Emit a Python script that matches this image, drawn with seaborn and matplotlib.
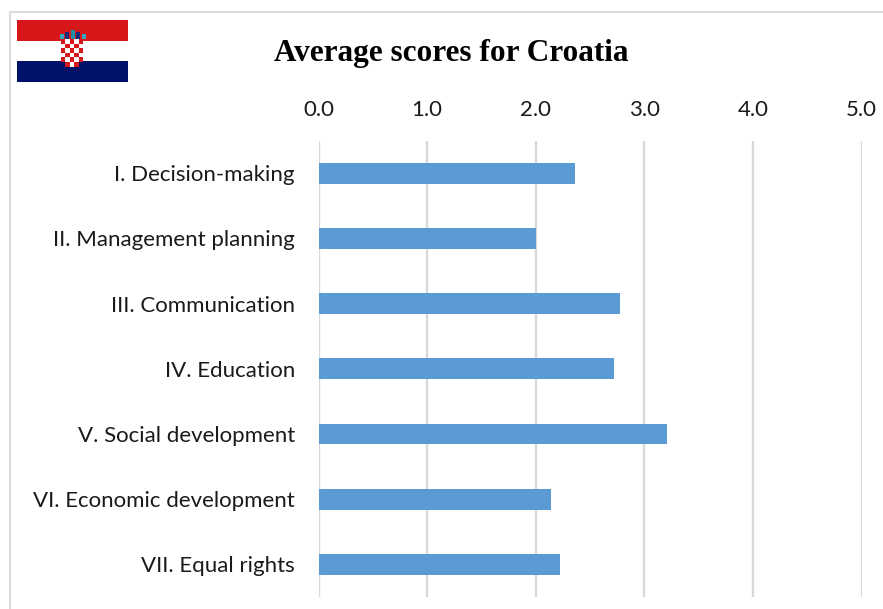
import numpy as np
import pandas as pd
import matplotlib
matplotlib.use('Agg')
import matplotlib.pyplot as plt
import seaborn as sns
from matplotlib.patches import Rectangle

categories = ['I. Decision-making', 'II. Management planning', 'III. Communication',
              'IV. Education', 'V. Social development', 'VI. Economic development',
              'VII. Equal rights']
scores = [2.36, 2.00, 2.78, 2.72, 3.21, 2.14, 2.22]
x_ticks = [0, 1, 2, 3, 4, 5]
title = 'Average scores for Croatia'

W, H = 883, 609

sns.set_theme(style='white')
plt.rcParams['font.family'] = ['Lato', 'DejaVu Sans']

df = pd.DataFrame({'category': categories, 'score': scores})

fig = plt.figure(figsize=(W / 100, H / 100), dpi=100)
ax = fig.add_axes([318.5 / W, 1 - 597 / H, (861.5 - 318.5) / W, (597 - 140.5) / H])
ax.set_axisbelow(True)

sns.barplot(data=df, x='score', y='category', color='#5b9bd5', saturation=1,
            width=0.32, edgecolor='#5b9bd5', linewidth=0, ax=ax)

ax.set_xlim(0, 5)
ax.set_xticks(x_ticks)
ax.set_xticklabels(['%.1f' % t for t in x_ticks])
ax.xaxis.tick_top()
ax.grid(axis='x', color='#d9d9d9', lw=1.7)
ax.grid(axis='y', visible=False)
ax.set_xlabel('')
ax.set_ylabel('')
ax.tick_params(axis='x', length=0, pad=15, labelsize=16, labelcolor='#1a1a1a')
ax.tick_params(axis='y', length=0, pad=17, labelsize=16, labelcolor='#1a1a1a')
sns.despine(ax=ax, left=True, right=True, top=True, bottom=True)

fig.text(451 / W, 1 - 53 / H, title, ha='center', va='center', fontsize=22.5,
         fontweight='bold', family='Liberation Serif', color='black')

# chart frame, runs off the right and bottom of the image
frame = fig.add_axes([0, 0, 1, 1], zorder=-1)
frame.set_xlim(0, W)
frame.set_ylim(H, 0)
frame.axis('off')
frame.plot([10, 10, W], [H, 12, 12], color='#dcdcdc', lw=1.5)

# flag
flag = fig.add_axes([17 / W, 1 - 82 / H, 111 / W, 62 / H])
flag.set_xlim(0, 111)
flag.set_ylim(62, 0)
flag.axis('off')
flag.add_patch(Rectangle((0, 0), 111, 20.5, color='#d7171a', lw=0))
flag.add_patch(Rectangle((0, 20.5), 111, 20.5, color='white', lw=0))
flag.add_patch(Rectangle((0, 41), 111, 21, color='#00116a', lw=0))
# coat of arms
flag.add_patch(Rectangle((44, 19), 22, 23, color='white', lw=0))
checks = np.indices((6, 5)).sum(axis=0) % 2
for r in range(6):
    for c in range(5):
        if r == 5 and c in (0, 4):
            continue
        col = '#d7171a' if checks[r, c] == 0 else 'white'
        flag.add_patch(Rectangle((44 + c * 4.4, 19 + r * 4.6), 4.4, 4.6, color=col, lw=0))
crown = [(42.5, 14, 4, '#2fa6c4'), (48, 12, 4, '#1c2a78'), (53.5, 10, 4.5, '#1f8fa8'),
         (59, 12, 4, '#1c2a78'), (64.5, 14, 4, '#2fa6c4')]
for cx, top, w, col in crown:
    flag.add_patch(Rectangle((cx, top), w, 19 - top, color=col, lw=0))

fig.savefig('out.png', dpi=100)
